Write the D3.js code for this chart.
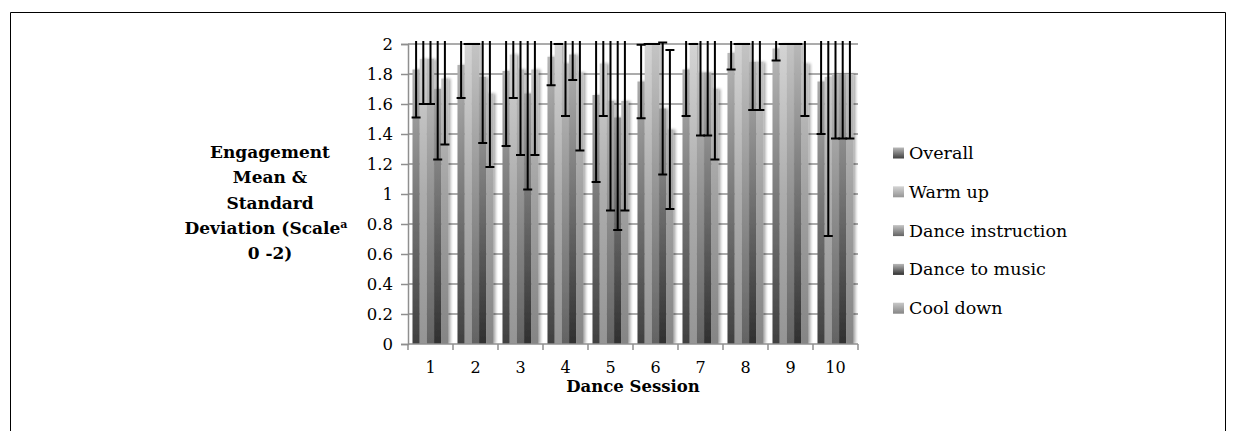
<!DOCTYPE html>
<html><head><meta charset="utf-8">
<script src="https://cdn.jsdelivr.net/npm/d3@7"></script>
<style>body{margin:0;background:#fff}svg{display:block}</style>
</head><body>
<svg id="c" width="1236" height="431"></svg>
<script>
const sessions = ["1","2","3","4","5","6","7","8","9","10"];
const seriesNames = ["Overall","Warm up","Dance instruction","Dance to music","Cool down"];
const meanOverall = [1.83,1.86,1.82,1.915,1.66,1.75,1.83,1.94,1.97,1.75];
const meanWarmUp = [1.90,2.00,1.93,2.00,1.87,2.00,2.00,2.00,2.00,1.78];
const meanInstruction = [1.90,2.00,1.83,1.87,1.62,2.00,1.81,2.00,2.00,1.80];
const meanMusic = [1.70,1.78,1.67,1.93,1.51,1.57,1.81,1.88,2.00,1.80];
const meanCoolDown = [1.77,1.67,1.83,1.81,1.62,1.43,1.70,1.88,1.87,1.80];
const sdOverall = [0.32,0.22,0.50,0.19,0.58,0.245,0.31,0.11,0.08,0.35];
const sdWarmUp = [0.30,0,0.29,0,0.35,0,0,0,0,1.06];
const sdInstruction = [0.30,0,0.57,0.35,0.73,0,0.42,0,0,0.43];
const sdMusic = [0.47,0.44,0.64,0.17,0.75,0.44,0.42,0.32,0,0.43];
const sdCoolDown = [0.44,0.49,0.57,0.52,0.73,0.53,0.47,0.32,0.35,0.43];
const yTicks = [0,0.2,0.4,0.6,0.8,1,1.2,1.4,1.6,1.8,2];

const means = [meanOverall,meanWarmUp,meanInstruction,meanMusic,meanCoolDown];
const sds = [sdOverall,sdWarmUp,sdInstruction,sdMusic,sdCoolDown];
const colBottom = ["#404040","#959595","#636363","#303030","#858585"];
const colMid = ["#7a7a7a","#adadad","#939393","#747474","#a2a2a2"];
const colTop = ["#bababa","#d4d4d4","#c4c4c4","#b8b8b8","#c8c8c8"];

const svg = d3.select("#c");
const L = 408, R = 858, T = 44, B = 344;
const x = d3.scaleBand().domain(sessions).range([L,R]).paddingInner(0.2).paddingOuter(0.1);
const xs = d3.scaleBand().domain(seriesNames).range([0,x.bandwidth()]);
const y = d3.scaleLinear().domain([0,2]).range([B,T]);
const serif = "'DejaVu Serif', serif";

// outer frame
svg.append("path").attr("d","M10.5,431 V12.5 H1225.5 V431").attr("fill","none").attr("stroke","#000").attr("stroke-width",1);

const defs = svg.append("defs");
seriesNames.forEach((s,i)=>{
  const g = defs.append("linearGradient").attr("id","g"+i).attr("gradientUnits","userSpaceOnUse")
    .attr("x1",0).attr("x2",0).attr("y1",B).attr("y2",T);
  g.append("stop").attr("offset","0").attr("stop-color",colBottom[i]);
  g.append("stop").attr("offset","0.5").attr("stop-color",colMid[i]);
  g.append("stop").attr("offset","1").attr("stop-color",colTop[i]);
  const lg = defs.append("linearGradient").attr("id","lg"+i).attr("x1",0).attr("x2",0).attr("y1",1).attr("y2",0);
  lg.append("stop").attr("offset","0").attr("stop-color",colBottom[i]);
  lg.append("stop").attr("offset","1").attr("stop-color",colTop[i]);
});
const f = defs.append("filter").attr("id","sh").attr("x","-50%").attr("y","-10%").attr("width","200%").attr("height","120%");
f.append("feGaussianBlur").attr("in","SourceAlpha").attr("stdDeviation",1.6).attr("result","b");
f.append("feOffset").attr("in","b").attr("dx",1.5).attr("dy",0).attr("result","o");
f.append("feComponentTransfer").attr("in","o").attr("result","o2").append("feFuncA").attr("type","linear").attr("slope",0.35);
const fm = f.append("feMerge"); fm.append("feMergeNode").attr("in","o2"); fm.append("feMergeNode").attr("in","SourceGraphic");
defs.append("clipPath").attr("id","clip").append("rect").attr("x",L).attr("y",T-3).attr("width",R-L+2).attr("height",B-T+3);

// gridlines
svg.append("g").selectAll("line").data(yTicks.filter(d=>d>0)).join("line")
  .attr("x1",L).attr("x2",R).attr("y1",d=>y(d)).attr("y2",d=>y(d))
  .attr("stroke","#8f8f8f").attr("stroke-width",1.5);

// y axis
const ya = svg.append("g").attr("transform",`translate(${L},0)`)
  .call(d3.axisLeft(y).tickValues(yTicks).tickSize(7).tickPadding(8).tickFormat(d=>String(d)));
ya.select(".domain").attr("stroke","#8f8f8f").attr("stroke-width",1.5);
ya.selectAll(".tick line").attr("stroke","#8f8f8f").attr("stroke-width",1.5);
ya.selectAll("text").attr("font-family",serif).attr("font-size",16.5).attr("fill","#000");

// bars
const plot = svg.append("g").attr("clip-path","url(#clip)");
const data = [];
sessions.forEach((s,j)=>seriesNames.forEach((n,i)=>data.push({s,n,i,v:means[i][j],sd:sds[i][j]})));
plot.append("g").selectAll("rect").data(data).join("rect")
  .attr("x",d=>x(d.s)+xs(d.n)).attr("width",xs.bandwidth())
  .attr("y",d=>y(d.v)).attr("height",d=>B-y(d.v))
  .attr("fill",d=>`url(#g${d.i})`).attr("filter","url(#sh)");

// x axis
const xa = svg.append("g").attr("transform",`translate(0,${B})`);
xa.append("line").attr("x1",L).attr("x2",R).attr("stroke","#8f8f8f").attr("stroke-width",1.5);
const bounds = sessions.map(s=>x(s)-x.step()*x.paddingInner()/2);
bounds.push(R);
bounds[0]=L;
xa.selectAll(".tk").data(bounds).join("line").attr("class","tk")
  .attr("x1",d=>d).attr("x2",d=>d).attr("y1",0).attr("y2",6).attr("stroke","#8f8f8f").attr("stroke-width",1.5);
xa.selectAll("text").data(sessions).join("text")
  .attr("x",d=>x(d)+x.bandwidth()/2).attr("y",29).attr("text-anchor","middle")
  .attr("font-family",serif).attr("font-size",16).text(d=>d);

// error bars
const eb = plot.append("g").attr("stroke","#000").attr("stroke-width",2);
data.forEach(d=>{
  const cx = x(d.s)+xs(d.n)+xs.bandwidth()/2;
  const y1 = y(d.v-d.sd), y2 = y(d.v+d.sd);
  eb.append("line").attr("x1",cx).attr("x2",cx).attr("y1",y1).attr("y2",y2);
  eb.append("line").attr("x1",cx-4.5).attr("x2",cx+4.5).attr("y1",y1).attr("y2",y1);
  eb.append("line").attr("x1",cx-4.5).attr("x2",cx+4.5).attr("y1",y2).attr("y2",y2);
});

// axis titles
svg.append("text").attr("x",(L+R)/2).attr("y",392).attr("text-anchor","middle")
  .attr("font-family",serif).attr("font-weight","bold").attr("font-size",16.5).text("Dance Session");
const yt = svg.append("text").attr("text-anchor","middle").attr("font-family",serif)
  .attr("font-weight","bold").attr("font-size",17);
const lines = ["Engagement","Mean &","Standard"];
lines.forEach((t,k)=>yt.append("tspan").attr("x",270).attr("y",158+k*25.3).text(t));
const l4 = yt.append("tspan").attr("x",266).attr("y",158+3*25.3);
l4.text("Deviation (Scale");
yt.append("tspan").attr("font-size",11).attr("dy",-6).text("a");
yt.append("tspan").attr("x",270).attr("y",158+4*25.3).text("0 -2)");

// legend
const lgG = svg.append("g");
seriesNames.forEach((n,i)=>{
  const cy = 153 + i*38.8;
  lgG.append("rect").attr("x",893).attr("y",cy-5.5).attr("width",11).attr("height",11).attr("fill",`url(#lg${i})`);
  lgG.append("text").attr("x",909).attr("y",cy+6).attr("font-family",serif).attr("font-size",17.5).text(n);
});
</script>
</body></html>
